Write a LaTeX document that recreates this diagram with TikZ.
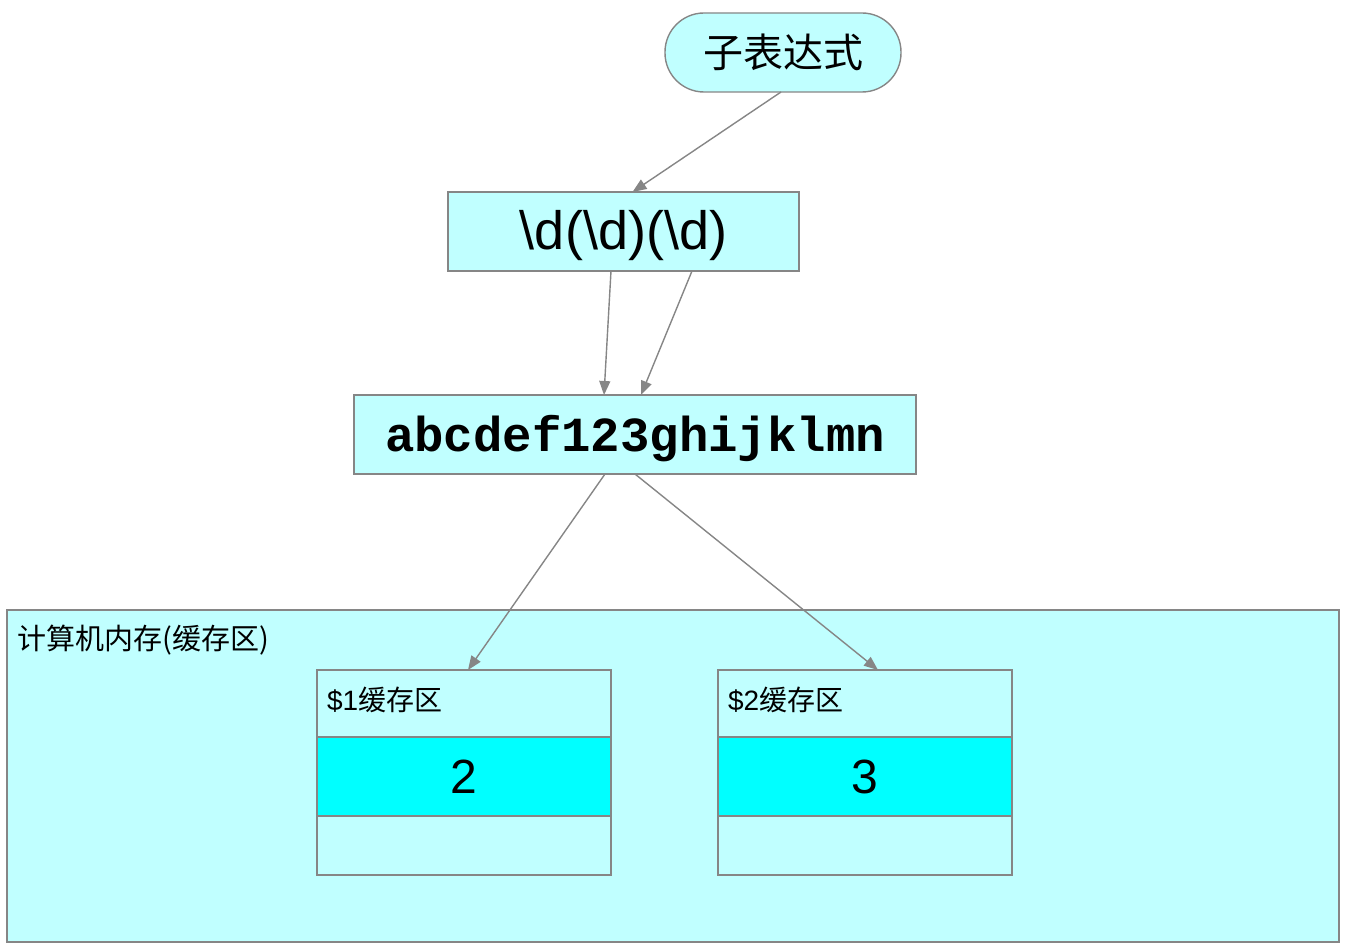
\documentclass[tikz,border=0pt]{standalone}
\usepackage{fontspec}
\setmainfont{Liberation Sans}
\newfontfamily\cjk{Noto Sans CJK SC}
\newfontfamily\mono{Liberation Mono}
\usetikzlibrary{positioning,arrows.meta}
\definecolor{boxfill}{HTML}{C0FFFF}
\definecolor{valfill}{HTML}{00FFFF}
\definecolor{edge}{HTML}{868686}

\begin{document}
\begin{tikzpicture}[x=1pt,y=-1pt]

            \tikzset{box/.style={draw=edge, fill=boxfill, line width=1.4pt, inner sep=0pt, outer sep=0pt},
                     link/.style={draw=edge, line width=1.4pt, -{Triangle[length=14pt,width=11pt]}}}

            \useasboundingbox (0,0) rectangle (1350,952);

            \node[box, rounded corners=39pt, minimum width=236pt, minimum height=79pt] (expr) at (783,52.5)
                {\fontsize{40}{42}\selectfont\cjk 子表达式};
            \node[box, minimum width=351pt, minimum height=79pt] (regex) at (623.5,231.5)
                {\fontsize{54}{56}\selectfont\raisebox{-4pt}[\height][\depth]{\textbackslash d(\textbackslash d)(\textbackslash d)}};
            \node[box, minimum width=562pt, minimum height=79pt] (input) at (635,434.5)
                {\fontsize{49}{51}\selectfont\mono\bfseries\raisebox{-4pt}[\height][\depth]{abcdef123ghijklmn}};

            \node[box, minimum width=1332pt, minimum height=332pt] (mem) at (673,776) {};
            \node[anchor=west, inner sep=0pt] (memlabel) at (17,640)
                {\fontsize{29}{31}\selectfont\cjk 计算机内存(缓存区)};

            \node[box, minimum width=294pt, minimum height=67pt, text width=274pt, align=left] (buf1head) at (464,703.5)
                {\fontsize{28}{30}\selectfont\raisebox{4pt}[\height][\depth]{\$1{\cjk 缓存区}}};
            \node[box, fill=valfill, minimum width=294pt, minimum height=79pt, below=0pt of buf1head] (buf1val)
                {\fontsize{48}{50}\selectfont 2};
            \node[box, minimum width=294pt, minimum height=59pt, below=0pt of buf1val] (buf1tail) {};

            \node[box, minimum width=294pt, minimum height=67pt, text width=274pt, align=left] (buf2head) at (865,703.5)
                {\fontsize{28}{30}\selectfont\raisebox{4pt}[\height][\depth]{\$2{\cjk 缓存区}}};
            \node[box, fill=valfill, minimum width=294pt, minimum height=79pt, below=0pt of buf2head] (buf2val)
                {\fontsize{48}{50}\selectfont 3};
            \node[box, minimum width=294pt, minimum height=59pt, below=0pt of buf2val] (buf2tail) {};

            \draw[link] ([xshift=-2pt]expr.south) -- ([xshift=9pt]regex.north);
            \draw[link] ([xshift=-12.5pt]regex.south) -- ([xshift=-31pt]input.north);
            \draw[link] ([xshift=68.5pt]regex.south) -- ([xshift=6pt]input.north);
            \draw[link] ([xshift=-30pt]input.south) -- ([xshift=4pt]buf1head.north);
            \draw[link] (input.south) -- ([xshift=13pt]buf2head.north);

        \end{tikzpicture}
\end{document}
